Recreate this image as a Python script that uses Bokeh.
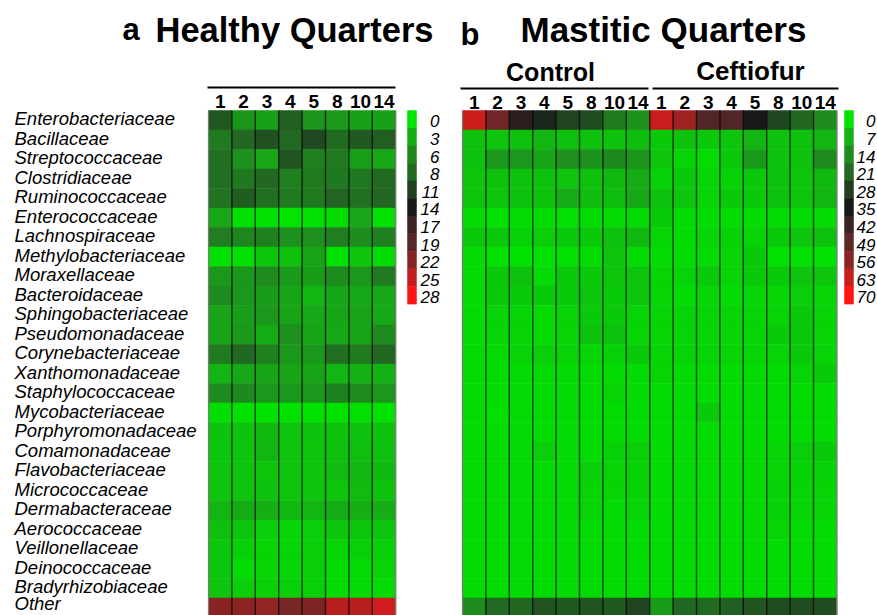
import numpy as np
from bokeh.plotting import figure
from bokeh.models import Range1d, LinearColorMapper, ColumnDataSource
from bokeh.core.properties import value
from bokeh.transform import transform
from bokeh.embed import file_html
from bokeh.resources import INLINE

# ---------------- data ----------------
families = ["Enterobacteriaceae", "Bacillaceae", "Streptococcaceae", "Clostridiaceae",
            "Ruminococcaceae", "Enterococcaceae", "Lachnospiraceae", "Methylobacteriaceae",
            "Moraxellaceae", "Bacteroidaceae", "Sphingobacteriaceae", "Pseudomonadaceae",
            "Corynebacteriaceae", "Xanthomonadaceae", "Staphylococcaceae", "Mycobacteriaceae",
            "Porphyromonadaceae", "Comamonadaceae", "Flavobacteriaceae", "Micrococcaceae",
            "Dermabacteraceae", "Aerococcaceae", "Veillonellaceae", "Deinococcaceae",
            "Bradyrhizobiaceae", "Other"]
days = ["1", "2", "3", "4", "5", "8", "10", "14"]
healthy_ticks = ["0", "3", "6", "8", "11", "14", "17", "19", "22", "25", "28"]
mastitic_ticks = ["0", "7", "14", "21", "28", "35", "42", "49", "56", "63", "70"]

# Healthy quarters (relative abundance, %), one list per day
healthy_d1 = [9.5, 6.9, 7.7, 7.7, 7.5, 3.6, 6.7, 0.3, 4.8, 5.7, 3.8, 3.8, 6.9, 2.6, 5.7, 0.4, 1.8, 1.6, 1.7, 1.7, 2.6, 2.0, 1.6, 1.6, 1.7, 22.2]
healthy_d2 = [5.0, 8.4, 5.3, 7.0, 9.1, 0.3, 6.2, 0.3, 4.8, 4.8, 4.2, 4.5, 8.4, 3.4, 5.9, 0.2, 1.8, 1.7, 1.7, 1.7, 3.2, 1.7, 1.1, 0.6, 1.3, 22.4]
healthy_d3 = [4.2, 9.9, 3.6, 8.4, 7.7, 0.3, 6.5, 1.6, 5.7, 4.5, 4.8, 3.2, 6.5, 3.8, 4.8, 0.2, 2.4, 2.6, 1.7, 1.8, 3.0, 1.3, 0.9, 0.9, 1.1, 22.6]
healthy_d4 = [9.0, 8.2, 9.7, 6.5, 6.9, 0.0, 5.3, 1.9, 4.5, 3.8, 3.8, 5.3, 4.8, 3.8, 4.8, 0.2, 1.7, 1.7, 1.7, 1.7, 2.4, 0.9, 0.9, 0.9, 1.1, 21.3]
healthy_d5 = [5.0, 10.4, 6.5, 6.9, 6.9, 0.3, 5.3, 3.8, 4.3, 2.6, 3.4, 3.8, 4.8, 3.8, 4.8, 0.2, 1.8, 1.7, 1.7, 1.7, 2.6, 1.3, 1.1, 1.1, 1.1, 21.5]
healthy_d8 = [4.8, 8.0, 6.9, 7.0, 8.6, 0.5, 6.7, 0.3, 5.7, 3.8, 3.8, 3.4, 7.7, 2.6, 6.5, 0.2, 1.9, 2.0, 2.2, 1.7, 3.2, 1.7, 0.9, 0.6, 0.6, 24.5]
healthy_d10 = [4.0, 9.2, 4.2, 7.0, 7.7, 3.6, 5.5, 1.7, 4.8, 3.4, 3.8, 3.8, 6.9, 2.8, 5.7, 0.3, 1.8, 2.0, 2.6, 2.2, 3.0, 1.6, 1.1, 0.6, 0.6, 24.5]
healthy_d14 = [4.0, 9.0, 3.6, 8.0, 8.4, 0.3, 6.5, 0.5, 6.9, 3.4, 3.4, 5.7, 8.4, 2.8, 4.8, 0.2, 1.8, 2.0, 2.3, 1.8, 3.0, 1.7, 1.1, 0.9, 0.6, 25.6]

# Mastitic quarters - Control
control_d1 = [63.7, 4.8, 4.8, 4.3, 4.3, 1.1, 3.8, 1.6, 1.6, 1.6, 1.6, 1.6, 1.6, 1.6, 1.6, 1.1, 1.1, 1.6, 1.6, 1.6, 1.6, 1.1, 1.1, 1.1, 1.1, 14.0]
control_d2 = [51.9, 4.3, 12.0, 4.8, 4.3, 0.6, 3.8, 0.6, 3.8, 3.8, 2.2, 2.2, 1.6, 1.1, 1.6, 0.6, 1.1, 1.6, 1.1, 1.6, 1.6, 1.6, 1.1, 1.1, 1.1, 20.5]
control_d3 = [38.7, 4.8, 12.0, 4.8, 4.8, 1.1, 2.7, 0.3, 4.8, 3.8, 2.2, 2.2, 2.2, 1.1, 1.6, 1.1, 1.1, 1.6, 1.6, 1.6, 1.6, 1.1, 1.1, 1.1, 1.1, 21.0]
control_d4 = [32.4, 6.5, 9.3, 4.8, 4.8, 1.1, 3.2, 0.6, 1.6, 3.8, 1.6, 1.6, 3.2, 1.6, 1.6, 1.1, 1.1, 3.2, 1.6, 1.6, 1.6, 1.1, 1.1, 1.1, 1.1, 24.2]
control_d5 = [27.0, 4.8, 13.2, 4.3, 7.8, 0.6, 3.8, 0.6, 3.8, 3.8, 2.2, 2.2, 2.2, 1.1, 1.6, 1.1, 1.1, 1.6, 1.6, 1.6, 1.6, 1.6, 1.1, 1.1, 1.1, 23.1]
control_d8 = [25.9, 4.8, 13.2, 4.8, 5.4, 1.1, 3.8, 1.1, 3.8, 4.3, 3.8, 4.8, 2.2, 1.6, 1.6, 1.1, 1.1, 1.6, 3.2, 2.2, 2.2, 1.6, 1.6, 1.1, 1.1, 24.2]
control_d10 = [17.3, 4.8, 14.8, 5.9, 5.4, 1.1, 4.8, 4.3, 4.3, 3.8, 3.8, 4.8, 2.7, 1.6, 2.2, 1.1, 1.1, 2.7, 2.2, 2.2, 1.6, 1.6, 1.1, 1.1, 1.1, 23.5]
control_d14 = [13.2, 5.4, 12.4, 7.8, 8.6, 1.1, 5.9, 1.1, 4.3, 4.3, 2.2, 2.2, 3.8, 1.6, 1.6, 1.1, 1.1, 3.2, 2.7, 2.7, 2.2, 1.6, 1.1, 1.1, 1.1, 27.3]

# Mastitic quarters - Ceftiofur
ceftiofur_d1 = [63.4, 3.8, 4.3, 2.7, 4.8, 3.8, 2.2, 1.6, 2.2, 2.2, 2.2, 2.2, 2.2, 2.2, 1.6, 1.1, 1.1, 1.6, 1.6, 1.6, 1.6, 1.1, 1.1, 1.1, 1.1, 11.3]
ceftiofur_d2 = [58.4, 4.8, 2.2, 3.8, 4.3, 1.1, 1.1, 1.1, 2.2, 1.6, 2.2, 2.2, 2.2, 1.6, 1.6, 1.1, 1.1, 1.6, 1.6, 1.6, 1.6, 1.1, 1.1, 1.1, 1.1, 21.0]
ceftiofur_d3 = [47.0, 3.8, 1.1, 2.2, 2.2, 1.1, 2.2, 1.6, 3.8, 2.2, 2.2, 2.2, 2.2, 1.6, 1.6, 3.8, 1.1, 1.6, 1.6, 1.6, 1.6, 1.1, 1.1, 1.1, 1.1, 20.5]
ceftiofur_d4 = [46.5, 4.3, 3.8, 2.7, 3.8, 1.1, 2.7, 2.2, 2.2, 1.6, 2.2, 2.2, 2.2, 1.6, 1.1, 1.6, 1.1, 1.6, 1.6, 1.6, 1.6, 1.1, 1.1, 1.1, 1.1, 22.4]
ceftiofur_d5 = [35.0, 6.5, 11.3, 3.8, 3.8, 1.1, 2.2, 3.8, 3.8, 2.2, 2.2, 2.2, 2.2, 1.6, 1.6, 1.1, 1.1, 1.6, 1.6, 1.6, 1.6, 1.6, 1.1, 1.1, 1.1, 24.2]
ceftiofur_d8 = [26.3, 4.8, 4.8, 4.8, 4.8, 1.1, 3.8, 0.6, 3.8, 2.2, 2.2, 3.8, 2.2, 1.6, 1.1, 1.1, 1.1, 2.2, 2.2, 2.7, 2.7, 2.2, 1.6, 1.1, 1.1, 25.9]
ceftiofur_d10 = [21.0, 4.8, 4.8, 4.3, 4.3, 1.1, 4.3, 0.6, 4.3, 3.2, 3.8, 3.8, 3.8, 2.2, 1.1, 1.1, 1.1, 3.2, 2.7, 2.2, 2.2, 1.6, 1.6, 1.1, 1.1, 25.9]
ceftiofur_d14 = [14.0, 6.5, 14.4, 5.9, 6.5, 1.1, 4.8, 0.6, 4.3, 2.2, 2.2, 2.2, 2.2, 3.8, 1.1, 1.1, 1.1, 3.8, 2.7, 2.2, 2.2, 1.6, 1.1, 1.1, 1.1, 25.5]

healthy = [healthy_d1, healthy_d2, healthy_d3, healthy_d4, healthy_d5, healthy_d8, healthy_d10, healthy_d14]
control = [control_d1, control_d2, control_d3, control_d4, control_d5, control_d8, control_d10, control_d14]
ceftiofur = [ceftiofur_d1, ceftiofur_d2, ceftiofur_d3, ceftiofur_d4, ceftiofur_d5, ceftiofur_d8, ceftiofur_d10, ceftiofur_d14]

# ---------------- style / layout ----------------
FONT = "Liberation Sans"
W, H = 877, 615
CW, RH = 23.4, 19.5          # pixel size of one heatmap cell
LEFT_PX, RIGHT_PX, TOP_PX = 208, 462, 110   # page px of heatmap edges

def X(px):  # page px -> data x (column units)
    return (px - LEFT_PX) / CW - 0.5

def Y(py):  # page py -> data y (row units)
    return (py - TOP_PX) / RH - 0.5

anchors = ["#00e400", "#14b014", "#1e8c1e", "#226622", "#203e20", "#181818",
           "#3a2222", "#5c2828", "#8c2424", "#c61e1e", "#ff1414"]
rgb = np.array([[int(a[i:i + 2], 16) for i in (1, 3, 5)] for a in anchors], float)
pos = np.linspace(0, 1, len(anchors))
t = np.linspace(0, 1, 256)
pal = ["#%02x%02x%02x" % tuple(int(round(np.interp(tt, pos, rgb[:, k]))) for k in range(3)) for tt in t]

map_h = LinearColorMapper(palette=pal, low=0, high=28)
map_m = LinearColorMapper(palette=pal, low=0, high=70)

p = figure(width=W, height=H, x_range=Range1d(X(0), X(W)), y_range=Range1d(Y(H), Y(0)),
           output_backend="svg", toolbar_location=None, min_border=0,
           x_axis_location=None, y_axis_location=None)
p.grid.visible = False
p.outline_line_color = None
p.background_fill_color = "white"

n = len(families)
RX0 = X(RIGHT_PX) + 0.5   # centre of first right-hand column

def cells(matrix, x0, mapper):
    xs, ys, vs = [], [], []
    for j, col in enumerate(matrix):
        for r, v in enumerate(col):
            xs.append(x0 + j); ys.append(r); vs.append(v)
    src = ColumnDataSource(dict(x=xs, y=ys, v=vs))
    p.rect("x", "y", width=1.0, height=1.0, source=src,
           fill_color=transform("v", mapper), line_color=transform("v", mapper), line_width=0.5)

cells(healthy, 0, map_h)
cells(control, RX0, map_m)
cells(ceftiofur, RX0 + len(days), map_m)

# column separators
def seps(x0, ncol):
    inner = [x0 - 0.5 + k for k in range(1, ncol)]
    p.segment(x0=inner, y0=[-0.5] * len(inner), x1=inner, y1=[n] * len(inner),
              line_color="black", line_alpha=0.7, line_width=1.4)
    outer = [x0 - 0.5, x0 - 0.5 + ncol]
    p.segment(x0=outer, y0=[-0.5] * 2, x1=outer, y1=[n] * 2,
              line_color="#7a7a7a", line_width=1.2)

seps(0, len(days))
seps(RX0, 2 * len(days))

# row labels (the last one is lifted slightly so it stays inside the page)
lab_src = ColumnDataSource(dict(x=[X(14)] * n, y=list(range(n)), text=families,
                                dy=[-1.5] * (n - 1) + [-4.0]))
p.text(x="x", y="y", text="text", y_offset="dy", source=lab_src, text_font=value(FONT),
       text_font_size="18.5px", text_font_style="italic", text_align="left",
       text_baseline="middle", text_color="black")

# column labels
p.text(x=list(range(len(days))), y=[Y(101)] * len(days), text=days, text_font=value(FONT),
       text_font_size="19px", text_font_style="bold", text_align="center",
       text_baseline="middle", text_color="black")
rx = [RX0 + j for j in range(2 * len(days))]
p.text(x=rx, y=[Y(102)] * len(rx), text=days + days, text_font=value(FONT),
       text_font_size="19px", text_font_style="bold", text_align="center",
       text_baseline="middle", text_color="black")

# bracket lines
p.segment(x0=[X(207), X(460), X(652)], y0=[Y(87), Y(88), Y(88)],
          x1=[X(395), X(648), X(838)], y1=[Y(87), Y(88), Y(88)],
          line_color="black", line_width=2)

# group labels
p.text(x=[X(550)], y=[Y(71)], text=["Control"],
       text_font=value(FONT), text_font_size="25px", text_font_style="bold",
       text_align="center", text_baseline="middle", text_color="black")
p.text(x=[X(750)], y=[Y(70)], text=["Ceftiofur"],
       text_font=value(FONT), text_font_size="26px", text_font_style="bold",
       text_align="center", text_baseline="middle", text_color="black")

# titles
p.text(x=[X(122), X(460)], y=[Y(29), Y(34)], text=["a", "b"], text_font=value(FONT),
       text_font_size="31px", text_font_style="bold", text_align="left",
       text_baseline="alphabetic", text_color="black")
p.text(x=[X(155)], y=[Y(29)], text=["Healthy Quarters"],
       text_font=value(FONT), text_font_size="34.5px", text_font_style="bold",
       text_align="left", text_baseline="alphabetic", text_color="black")
p.text(x=[X(520)], y=[Y(29)], text=["Mastitic Quarters"],
       text_font=value(FONT), text_font_size="35px", text_font_style="bold",
       text_align="left", text_baseline="alphabetic", text_color="black")

# colour bars
BLK = 17.6
def colorbar(ticks, mapper, x_left, x_lab):
    k = len(ticks)
    ys = [Y(TOP_PX + (i + 0.5) * BLK) for i in range(k)]
    src = ColumnDataSource(dict(x=[X(x_left + 4.5)] * k, y=ys, v=[float(s) for s in ticks]))
    p.rect("x", "y", width=9 / CW, height=BLK / RH, source=src,
           fill_color=transform("v", mapper), line_color=transform("v", mapper), line_width=0.5)
    p.text(x=[X(x_lab)] * k, y=[Y(TOP_PX + (i + 0.5) * BLK + 2) for i in range(k)], text=ticks,
           text_font=value(FONT), text_font_size="17px", text_font_style="italic",
           text_align="right", text_baseline="middle", text_color="black")

colorbar(healthy_ticks, map_h, 407, 439)
colorbar(mastitic_ticks, map_m, 844, 875)

open("out.html", "w").write(file_html(p, INLINE))
